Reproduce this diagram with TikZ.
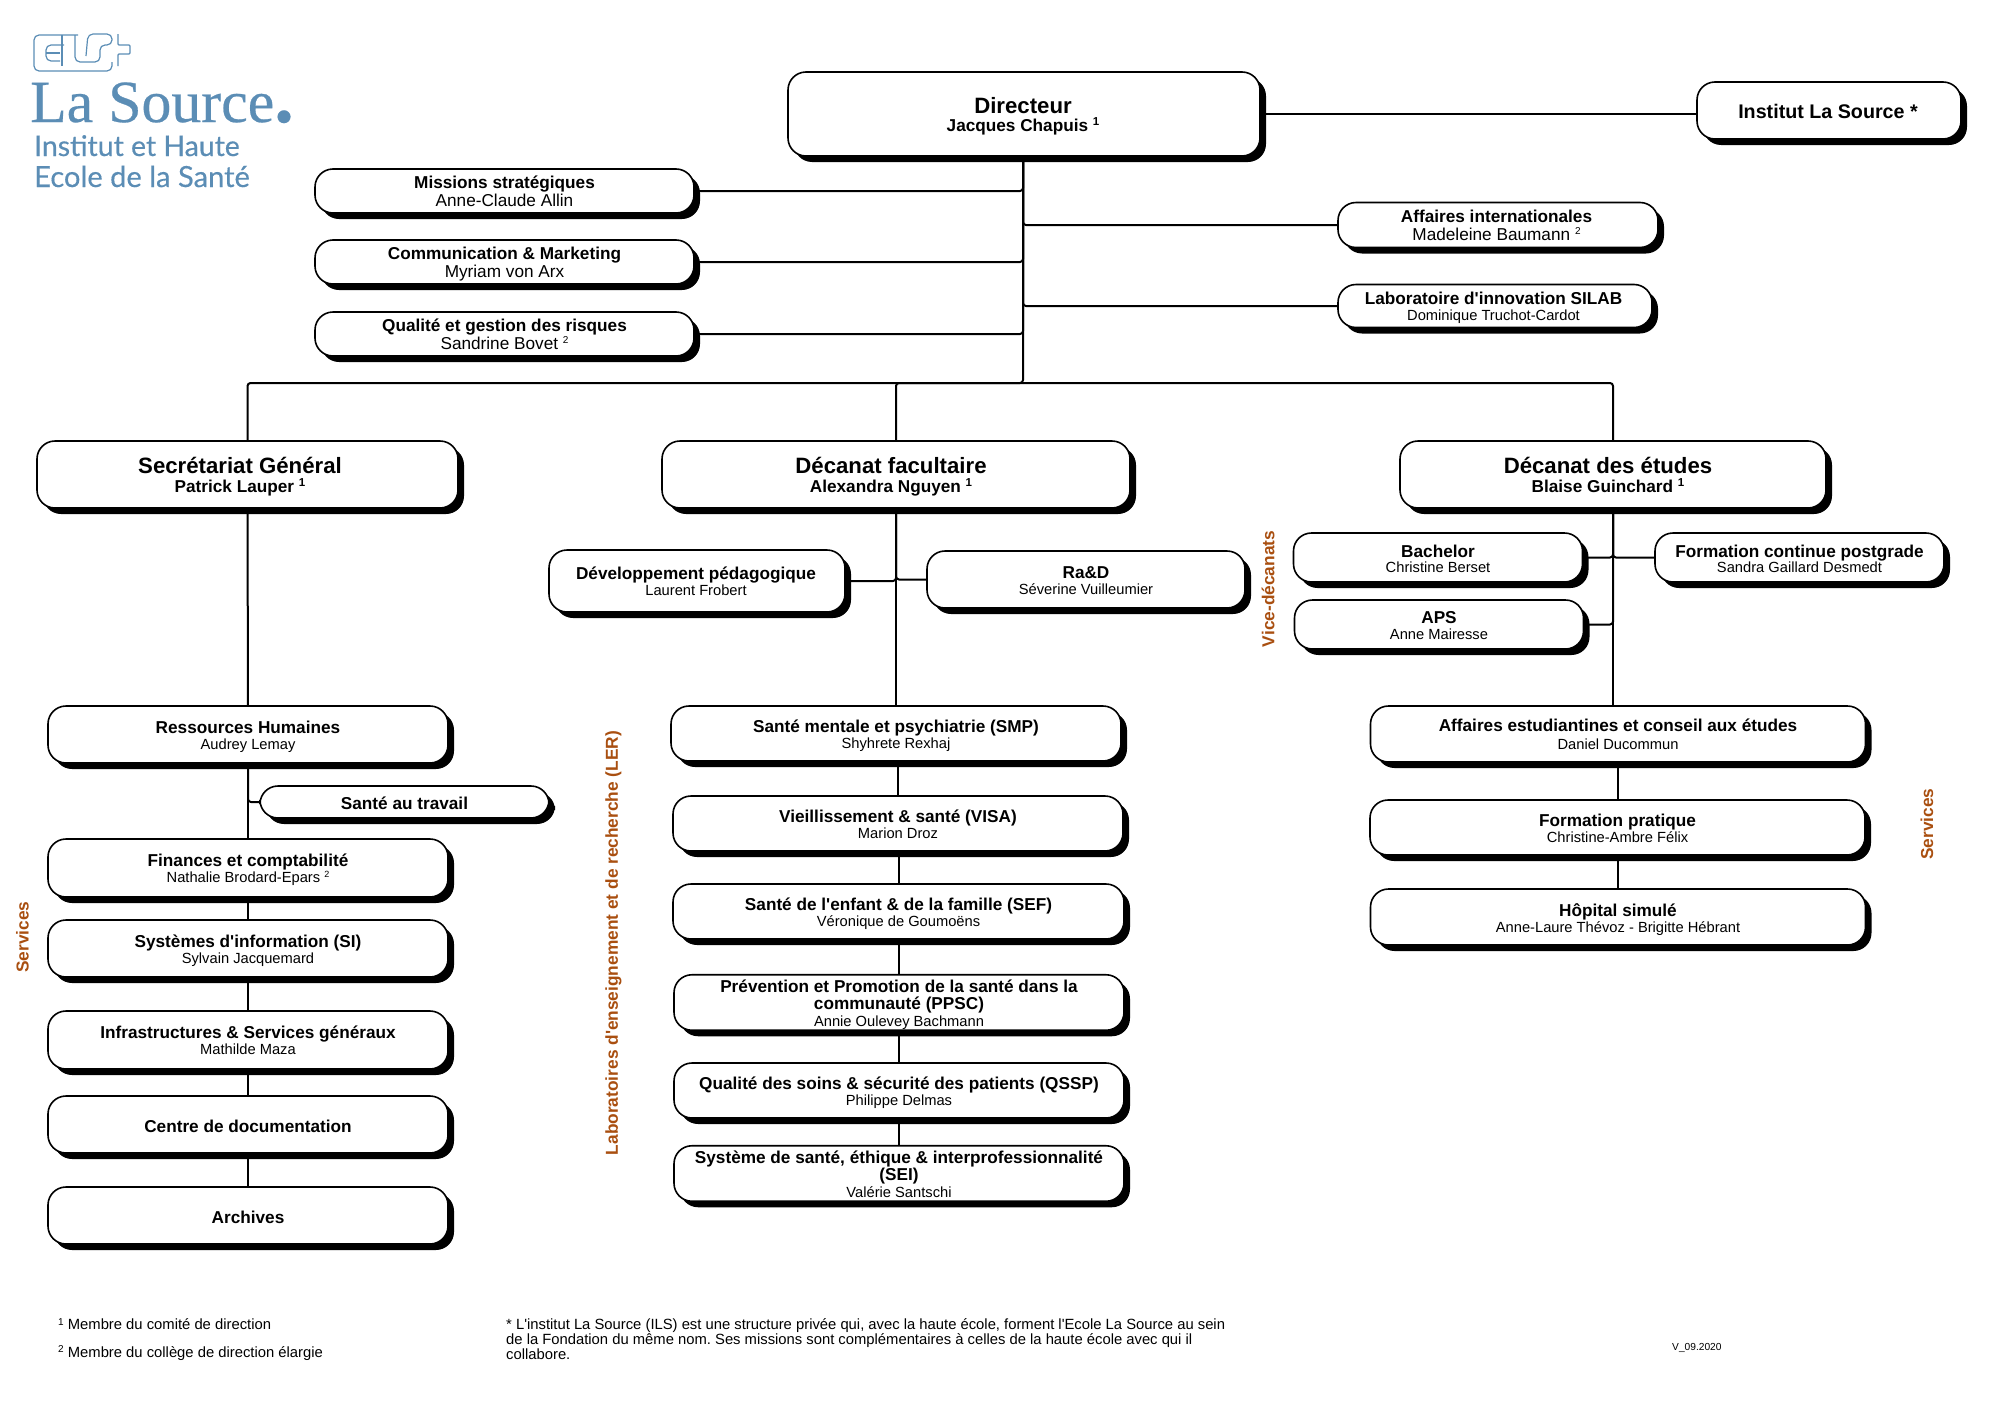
\documentclass[tikz,border=0pt]{standalone}
\usepackage{fontspec}
\usepackage{xcolor}
\usepackage{tikz}
\usetikzlibrary{shapes.geometric, shadows, backgrounds}
\newfontfamily\arial{Liberation Sans}
\newfontfamily\logoserif[FakeBold=0.4]{Liberation Serif}
\newfontfamily\logosans[FakeBold=0.4]{Lato}
\definecolor{logoblue}{HTML}{5B8DB5}
\definecolor{labelbrown}{HTML}{A94F10}
\newcommand{\grand}{\bfseries\fontsize{22.2}{20}\selectfont}
\newcommand{\titre}{\bfseries\fontsize{17.2}{17.5}\selectfont}
\newcommand{\nomg}{\fontsize{17.2}{17.5}\selectfont}
\newcommand{\nomp}{\fontsize{14.7}{17.5}\selectfont}
\newcommand{\expo}[2][10]{\raisebox{.62ex}{\fontsize{#1}{#1}\selectfont #2}}
\frenchspacing

\begin{document}
\begin{tikzpicture}[x=1pt, y=-1pt]
    % Define the style for the nodes
    \tikzstyle{block} = [rectangle, draw, fill=white, line width=1.6pt, rounded corners=18pt, align=center, inner sep=0pt, outer sep=0pt, text height=34pt, text depth=4pt, font=\arial\fontsize{17.2}{18}\selectfont, drop shadow={shadow xshift=6pt, shadow yshift=-6pt, fill=black, opacity=1}]
    \tikzstyle{big} = [text height=39pt, font=\arial\fontsize{17.2}{18.5}\selectfont]
    \tikzstyle{tight} = [text height=33pt, font=\arial\fontsize{17.2}{15.7}\selectfont]
    \tikzstyle{one} = [text height=19pt]
    \tikzstyle{three} = [text height=51.5pt, font=\arial\fontsize{17.2}{16.8}\selectfont]
    \tikzstyle{line} = [draw, line width=2pt, rounded corners=3pt]
    \tikzstyle{side} = [rotate=90, text=labelbrown, inner sep=0pt, font=\arial\bfseries\fontsize{17.3}{18}\selectfont]
    \tikzstyle{foot} = [anchor=north west, align=left, inner sep=0pt, font=\arial\fontsize{14.8}{15}\selectfont]
    \tikzstyle{logoline} = [draw=logoblue, line width=1.2pt, rounded corners=5pt]
    \useasboundingbox (0,0) rectangle (2000,1416);

    % Logo
    \path [logoline] (78,35) -- (34,35) -- (34,71) -- (112,71) -- (112,62);
    \path [logoline] (64,45) -- (46,45) -- (46,61) -- (60,61);
    \path [logoline] (46,53) -- (60,53);
    \path [logoline] (62,35) -- (62,66);
    \path [logoline] (75,35) -- (75,62) -- (100,62) -- (100,45) -- (112,45) -- (112,34) -- (88,34) -- (86,56);
    \path [logoline, rounded corners=1pt] (118,34) -- (118,45) -- (130,45) -- (130,54) -- (118,54) -- (118,66);
    \node [anchor=base west, inner sep=0pt, text=logoblue, font=\logoserif\fontsize{59.8}{60}\selectfont] (lasource) at (30,122) {La Source{\bfseries\fontsize{78}{60}\selectfont .}};
    \node [anchor=base west, inner sep=0pt, text=logoblue, font=\logosans\fontsize{28.4}{28}\selectfont] (institut) at (34,156) {Institut et Haute};
    \node [anchor=base west, inner sep=0pt, text=logoblue, font=\logosans\fontsize{29.1}{28}\selectfont] (ecole) at (34,187) {Ecole de la Santé};

    % Place the nodes
    \node [block, big, minimum width=472, minimum height=84] (directeur) at (1024,114) {{\grand Directeur\hspace*{2pt}}\\{\titre Jacques Chapuis \expo[11.5]{1}\hspace*{2pt}}};
    \node [block, one, minimum width=264, minimum height=57] (ils) at (1829,110.5) {{\bfseries\fontsize{19.7}{20}\selectfont Institut La Source *\hspace*{2pt}}};
    \node [block, minimum width=379, minimum height=44] (missions) at (504.5,191) {{\titre Missions stratégiques}\\{\nomg Anne-Claude Allin}};
    \node [block, minimum width=379, minimum height=44] (communication) at (504.5,262) {{\titre Communication \& Marketing}\\{\nomg Myriam von Arx}};
    \node [block, minimum width=379, minimum height=44] (qualite) at (504.5,334) {{\titre Qualité et gestion des risques}\\{\nomg Sandrine Bovet \expo{2}}};
    \node [block, minimum width=320, minimum height=45] (affaires) at (1498,225) {{\titre Affaires internationales\hspace*{3pt}}\\{\nomg Madeleine Baumann \expo{2}\hspace*{3pt}}};
    \node [block, tight, minimum width=314, minimum height=43] (silab) at (1495,306) {{\titre Laboratoire d'innovation SILAB\hspace*{3pt}}\\{\nomp Dominique Truchot-Cardot\hspace*{3pt}}};

    \node [block, big, minimum width=421, minimum height=67] (secretariat) at (247.5,474.5) {{\grand Secrétariat Général\hspace*{15pt}}\\{\titre Patrick Lauper \expo[11.5]{1}\hspace*{15pt}}};
    \node [block, big, minimum width=468, minimum height=67] (facultaire) at (896,474.5) {{\grand Décanat facultaire\hspace*{10pt}}\\{\titre Alexandra Nguyen \expo[11.5]{1}\hspace*{10pt}}};
    \node [block, big, minimum width=426, minimum height=67] (etudes) at (1613,474.5) {{\grand Décanat des études\hspace*{10pt}}\\{\titre Blaise Guinchard \expo[11.5]{1}\hspace*{10pt}}};

    \node [block, tight, minimum width=400, minimum height=57] (rh) at (248,734.5) {{\titre Ressources Humaines}\\{\nomp Audrey Lemay}};
    \node [block, one, minimum width=289, minimum height=32] (travail) at (404.5,802) {{\titre Santé au travail}};
    \node [block, tight, minimum width=400, minimum height=58] (finances) at (248,868) {{\titre Finances et comptabilité}\\{\nomp Nathalie Brodard-Epars \expo[9]{2}}};
    \node [block, tight, minimum width=400, minimum height=57] (si) at (248,948.5) {{\titre Systèmes d'information (SI)}\\{\nomp Sylvain Jacquemard}};
    \node [block, tight, minimum width=400, minimum height=58] (infra) at (248,1040) {{\titre Infrastructures \& Services généraux}\\{\nomp Mathilde Maza}};
    \node [block, one, minimum width=400, minimum height=57] (centre) at (248,1124.5) {{\titre Centre de documentation}};
    \node [block, one, minimum width=400, minimum height=57] (archives) at (248,1215.5) {{\titre Archives}};

    \node [block, tight, minimum width=296, minimum height=62] (pedago) at (697,581) {{\titre Développement pédagogique\hspace*{2pt}}\\{\nomp Laurent Frobert\hspace*{2pt}}};
    \node [block, tight, minimum width=318, minimum height=57] (rad) at (1086,579.5) {{\titre Ra\&D}\\{\nomp Séverine Vuilleumier}};
    \node [block, tight, minimum width=450, minimum height=55] (smp) at (896,733.5) {{\titre Santé mentale et psychiatrie (SMP)}\\{\nomp Shyhrete Rexhaj}};
    \node [block, tight, minimum width=450, minimum height=55] (visa) at (898,823.5) {{\titre Vieillissement \& santé (VISA)}\\{\nomp Marion Droz}};
    \node [block, tight, minimum width=451, minimum height=55] (sef) at (898.5,911.5) {{\titre Santé de l'enfant \& de la famille (SEF)}\\{\nomp Véronique de Goumoëns}};
    \node [block, three, minimum width=450, minimum height=55] (ppsc) at (899,1002.5) {{\titre Prévention et Promotion de la santé dans la}\\{\titre communauté (PPSC)}\\{\nomp Annie Oulevey Bachmann}};
    \node [block, tight, minimum width=450, minimum height=55] (qssp) at (899,1090.5) {{\titre Qualité des soins \& sécurité des patients (QSSP)}\\{\nomp Philippe Delmas}};
    \node [block, three, minimum width=450, minimum height=55] (sei) at (899,1173.5) {{\titre Système de santé, éthique \& interprofessionnalité}\\{\titre (SEI)}\\{\nomp Valérie Santschi}};

    \node [block, tight, text height=34.5pt, minimum width=289, minimum height=49] (bachelor) at (1438,557.5) {{\titre Bachelor}\\{\nomp Christine Berset}};
    \node [block, tight, text height=34.5pt, minimum width=289, minimum height=49] (postgrade) at (1799.5,557.5) {{\titre Formation continue postgrade}\\{\nomp Sandra Gaillard Desmedt}};
    \node [block, tight, text height=33.5pt, minimum width=289, minimum height=49] (aps) at (1439,624.5) {{\titre APS}\\{\nomp Anne Mairesse}};
    \node [block, minimum width=495, minimum height=56] (conseil) at (1618,734) {{\titre Affaires estudiantines et conseil aux études}\\{\nomp Daniel Ducommun}};
    \node [block, tight, text height=33.5pt, minimum width=495, minimum height=55] (pratique) at (1617.5,827.5) {{\titre Formation pratique}\\{\nomp Christine-Ambre Félix}};
    \node [block, tight, text height=34.5pt, minimum width=495, minimum height=56] (simule) at (1618,917) {{\titre Hôpital simulé}\\{\nomp Anne-Laure Thévoz - Brigitte Hébrant}};

    \node [side] (servicesg) at (22.5,937) {Services};
    \node [side] (ler) at (613.5,943) {Laboratoires d'enseignement et de recherche (LER)};
    \node [side] (vice) at (1268,589) {Vice-décanats};
    \node [side] (servicesd) at (1927,824) {Services};

    \node [foot] (note1) at (58,1318) {\expo{1} Membre du comité de direction};
    \node [foot] (note2) at (58,1345) {\expo{2} Membre du collège de direction élargie};
    \node [foot] (note) at (506,1318) {* L'institut La Source (ILS) est une structure privée qui, avec la haute école, forment l'Ecole La Source au sein\\de la Fondation du même nom. Ses missions sont complémentaires à celles de la haute école avec qui il\\collabore.};
    \node [foot, font=\arial\fontsize{10.2}{12}\selectfont] (version) at (1672,1343) {V\_09.2020};

    \coordinate (bus) at (1023,383);

    % Connect the nodes with paths
    \begin{scope}[on background layer]
    \path [line] (directeur.east) -- (directeur.east -| ils.west);
    \path [line] (bus |- directeur.south) |- (missions.east);
    \path [line] (bus |- directeur.south) |- (communication.east);
    \path [line] (bus |- directeur.south) |- (qualite.east);
    \path [line] (bus |- directeur.south) |- (affaires.west);
    \path [line] (bus |- directeur.south) |- (silab.west);
    \path [line] (bus |- directeur.south) -- (bus) -| (secretariat.north);
    \path [line] (bus) -| (facultaire.north);
    \path [line] (bus) -| (etudes.north);

    \path [line] (secretariat.south) -- (rh.north);
    \path [line] (rh.south) |- (travail.west);
    \path [line] (rh.south) -- (finances.north);
    \path [line] (finances.south) -- (si.north);
    \path [line] (si.south) -- (infra.north);
    \path [line] (infra.south) -- (centre.north);
    \path [line] (centre.south) -- (archives.north);

    \path [line] (facultaire.south) |- (pedago.east);
    \path [line] (facultaire.south) |- (rad.west);
    \path [line] (facultaire.south) -- (smp.north);
    \path [line] (visa.north) -- (visa.north |- smp.south);
    \path [line] (sef.north) -- (sef.north |- visa.south);
    \path [line] (ppsc.north) -- (ppsc.north |- sef.south);
    \path [line] (qssp.north) -- (qssp.north |- ppsc.south);
    \path [line] (sei.north) -- (sei.north |- qssp.south);

    \path [line] (etudes.south) |- (bachelor.east);
    \path [line] (etudes.south) |- (postgrade.west);
    \path [line] (etudes.south) |- (aps.east);
    \path [line] (etudes.south) -- (etudes.south |- conseil.north);
    \path [line] (pratique.north) -- (pratique.north |- conseil.south);
    \path [line] (simule.north) -- (simule.north |- pratique.south);
    \end{scope}
\end{tikzpicture}
\end{document}
